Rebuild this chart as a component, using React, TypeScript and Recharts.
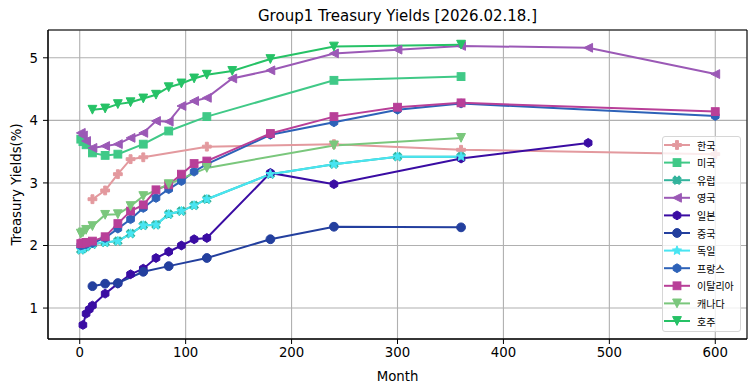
import React from "react"
import { LineChart, Line, XAxis, YAxis, CartesianGrid, Legend, ReferenceArea } from "recharts"

const W = 755
const H = 391
const FONT = "'DejaVu Sans', sans-serif"
const KFONT = "'Noto Sans CJK KR', 'DejaVu Sans', sans-serif"

// 만기(개월) / 금리(%) — 그림에서 읽은 값
const krMonths = [12, 24, 36, 48, 60, 120, 240, 360, 600]
const krYields = [2.74, 2.88, 3.14, 3.38, 3.41, 3.58, 3.62, 3.53, 3.46]

const usMonths = [1, 3, 6, 12, 24, 36, 60, 84, 120, 240, 360]
const usYields = [3.7, 3.66, 3.61, 3.48, 3.44, 3.46, 3.62, 3.83, 4.06, 4.64, 4.7]

const euMonths = [1, 3, 6, 12, 24, 36, 48, 60, 72, 84, 96, 108, 120, 180, 240, 300, 360]
const euYields = [1.93, 1.95, 1.98, 2.02, 2.05, 2.07, 2.19, 2.32, 2.33, 2.5, 2.55, 2.64, 2.74, 3.14, 3.3, 3.42, 3.42]

const ukMonths = [1, 3, 6, 12, 24, 36, 48, 60, 72, 84, 96, 108, 120, 144, 180, 240, 300, 360, 480, 600]
const ukYields = [3.8, 3.76, 3.67, 3.56, 3.59, 3.62, 3.72, 3.8, 3.99, 3.98, 4.23, 4.31, 4.36, 4.67, 4.8, 5.07, 5.13, 5.19, 5.16, 4.74]

const jpMonths = [3, 6, 9, 12, 24, 36, 48, 60, 72, 84, 96, 108, 120, 180, 240, 360, 480]
const jpYields = [0.73, 0.91, 0.98, 1.04, 1.23, 1.39, 1.54, 1.63, 1.8, 1.9, 2.0, 2.1, 2.12, 3.16, 2.98, 3.39, 3.64]

const cnMonths = [12, 24, 36, 60, 84, 120, 180, 240, 360]
const cnYields = [1.35, 1.39, 1.4, 1.58, 1.67, 1.8, 2.1, 2.3, 2.29]

const deMonths = [1, 3, 6, 12, 24, 36, 48, 60, 72, 84, 96, 108, 120, 180, 240, 300, 360]
const deYields = [1.93, 1.95, 1.98, 2.02, 2.05, 2.07, 2.19, 2.32, 2.33, 2.5, 2.55, 2.64, 2.74, 3.14, 3.3, 3.42, 3.42]

const frMonths = [1, 3, 6, 12, 24, 36, 48, 60, 72, 84, 96, 108, 120, 180, 240, 300, 360, 600]
const frYields = [2.0, 2.01, 2.02, 2.04, 2.12, 2.27, 2.42, 2.6, 2.76, 2.9, 3.03, 3.18, 3.3, 3.77, 3.97, 4.17, 4.27, 4.07]

const itMonths = [1, 3, 6, 12, 24, 36, 48, 60, 72, 84, 96, 108, 120, 180, 240, 300, 360, 600]
const itYields = [2.03, 2.04, 2.05, 2.07, 2.14, 2.35, 2.55, 2.65, 2.89, 2.97, 3.14, 3.31, 3.35, 3.79, 4.06, 4.21, 4.28, 4.14]

const caMonths = [1, 3, 6, 12, 24, 36, 48, 60, 84, 120, 240, 360]
const caYields = [2.19, 2.21, 2.25, 2.31, 2.49, 2.5, 2.63, 2.79, 2.98, 3.24, 3.6, 3.72]

const auMonths = [12, 24, 36, 48, 60, 72, 84, 96, 108, 120, 144, 180, 240, 360]
const auYields = [4.17, 4.19, 4.26, 4.29, 4.35, 4.41, 4.53, 4.59, 4.67, 4.73, 4.79, 4.98, 5.18, 5.21]

const xTicks = [0, 100, 200, 300, 400, 500, 600]
const yTicks = [1, 2, 3, 4, 5]
const X_DOMAIN: [number, number] = [-29.95, 629.95]
const Y_DOMAIN: [number, number] = [0.5055, 5.4445]

const pairs = (m: number[], y: number[]) => m.map((month, i) => ({ month, y: y[i] }))

const SERIES = [
  { name: "한국", data: pairs(krMonths, krYields), color: "#e3999e", marker: "P" },
  { name: "미국", data: pairs(usMonths, usYields), color: "#40c987", marker: "s" },
  { name: "유럽", data: pairs(euMonths, euYields), color: "#33b39c", marker: "X" },
  { name: "영국", data: pairs(ukMonths, ukYields), color: "#9b59b6", marker: "<" },
  { name: "일본", data: pairs(jpMonths, jpYields), color: "#3a0ca3", marker: "h" },
  { name: "중국", data: pairs(cnMonths, cnYields), color: "#233f9e", marker: "o" },
  { name: "독일", data: pairs(deMonths, deYields), color: "#48e5f2", marker: "*" },
  { name: "프랑스", data: pairs(frMonths, frYields), color: "#2d62b8", marker: "h" },
  { name: "이탈리아", data: pairs(itMonths, itYields), color: "#b83f98", marker: "s" },
  { name: "캐나다", data: pairs(caMonths, caYields), color: "#7ac77c", marker: "v" },
  { name: "호주", data: pairs(auMonths, auYields), color: "#26c266", marker: "v" },
]

function Glyph({ kind, x, y, color }: { kind: string; x: number; y: number; color: string }) {
  const r = 4.4
  const common = { fill: color, stroke: color, strokeWidth: 1 }
  if (kind === "o") return <circle cx={x} cy={y} r={r} {...common} />
  if (kind === "s") {
    const h = 3.9
    return <rect x={x - h} y={y - h} width={2 * h} height={2 * h} {...common} />
  }
  if (kind === "v") return <polygon points={`${x - r},${y - r} ${x + r},${y - r} ${x},${y + r}`} {...common} />
  if (kind === "<") return <polygon points={`${x - r},${y} ${x + r},${y - r} ${x + r},${y + r}`} {...common} />
  if (kind === "h") {
    const pts = [0, 1, 2, 3, 4, 5]
      .map((k) => {
        const a = (Math.PI / 180) * (90 + 60 * k)
        return `${x + r * Math.cos(a)},${y - r * Math.sin(a)}`
      })
      .join(" ")
    return <polygon points={pts} {...common} />
  }
  if (kind === "*") {
    const pts = Array.from({ length: 10 }, (_, k) => {
      const rr = k % 2 === 0 ? r + 0.4 : (r + 0.4) * 0.45
      const a = (Math.PI / 180) * (90 + 36 * k)
      return `${x + rr * Math.cos(a)},${y - rr * Math.sin(a)}`
    }).join(" ")
    return <polygon points={pts} {...common} />
  }
  // 'P' (채운 +) 와 'X' (채운 x)
  const a = r / 3
  const e = r
  const plus = `${x - a},${y - e} ${x + a},${y - e} ${x + a},${y - a} ${x + e},${y - a} ${x + e},${y + a} ${x + a},${y + a} ${x + a},${y + e} ${x - a},${y + e} ${x - a},${y + a} ${x - e},${y + a} ${x - e},${y - a} ${x - a},${y - a}`
  return <polygon points={plus} {...common} transform={kind === "X" ? `rotate(45 ${x} ${y})` : undefined} />
}

const dotFor = (kind: string, color: string) => (p: any) => {
  if (p.cx == null || p.cy == null) return <g key={p.index} />
  return <Glyph key={p.index} kind={kind} x={p.cx} y={p.cy} color={color} />
}

function LegendBox() {
  return (
    <div
      style={{
        width: 79,
        height: 196,
        boxSizing: "border-box",
        border: "1px solid #d6d6d6",
        borderRadius: 3,
        background: "rgba(255,255,255,0.8)",
      }}
    >
      <svg width={77} height={194} style={{ display: "block" }}>
        {SERIES.map((s, i) => {
          const cy = 8 + i * 17.6
          return (
            <g key={s.name}>
              <line x1={1} x2={27} y1={cy} y2={cy} stroke={s.color} strokeWidth={2} />
              <Glyph kind={s.marker} x={14} y={cy} color={s.color} />
              <text x={34} y={cy} dominantBaseline="central" fontSize={10} fontFamily={KFONT} fill="#000">
                {s.name}
              </text>
            </g>
          )
        })}
      </svg>
    </div>
  )
}

export default function App() {
  const tick = { fill: "#000", fontSize: 13.3, fontFamily: FONT }
  return (
    <div style={{ position: "absolute", left: 0, top: 0, width: W, height: H, background: "#fff" }}>
      <div
        style={{
          position: "absolute",
          left: 48,
          width: 699,
          top: 6,
          textAlign: "center",
          fontFamily: FONT,
          fontSize: 15,
          lineHeight: "20px",
          color: "#000",
        }}
      >
        Group1 Treasury Yields [2026.02.18.]
      </div>
      <LineChart width={W} height={H} margin={{ top: 30, right: 8, bottom: 0, left: 0 }}>
        <CartesianGrid stroke="#b0b0b0" strokeWidth={1.1} />
        <XAxis
          type="number"
          dataKey="month"
          domain={X_DOMAIN}
          ticks={xTicks}
          allowDataOverflow
          height={52}
          tick={tick}
          tickSize={5}
          tickMargin={4}
          tickLine={{ stroke: "#000" }}
          axisLine={{ stroke: "#000" }}
          label={{
            content: (p: any) => (
              <text x={p.viewBox.x + p.viewBox.width / 2} y={376} textAnchor="middle" dominantBaseline="central" fontSize={13.3} fontFamily={FONT} fill="#000">
                Month
              </text>
            ),
          }}
        />
        <YAxis
          type="number"
          domain={Y_DOMAIN}
          ticks={yTicks}
          allowDataOverflow
          width={48}
          tick={tick}
          tickSize={5}
          tickMargin={5}
          tickLine={{ stroke: "#000" }}
          axisLine={{ stroke: "#000" }}
          label={{
            content: (p: any) => {
              const cy = p.viewBox.y + p.viewBox.height / 2
              return (
                <text x={16} y={cy} transform={`rotate(-90 16 ${cy})`} textAnchor="middle" dominantBaseline="central" fontSize={13.3} fontFamily={FONT} fill="#000">
                  Treasury Yields(%)
                </text>
              )
            },
          }}
        />
        <ReferenceArea x1={X_DOMAIN[0]} x2={X_DOMAIN[1]} y1={Y_DOMAIN[0]} y2={Y_DOMAIN[1]} fill="none" stroke="#000" strokeWidth={1} ifOverflow="visible" />
        {SERIES.map((s) => (
          <Line
            key={s.name}
            name={s.name}
            data={s.data}
            dataKey="y"
            type="linear"
            stroke={s.color}
            strokeWidth={2}
            dot={dotFor(s.marker, s.color)}
            activeDot={false}
            isAnimationActive={false}
          />
        ))}
        <Legend
          layout="vertical"
          align="center"
          verticalAlign="middle"
          content={() => <LegendBox />}
          wrapperStyle={{ left: 662, top: 136, width: 79, height: 196 }}
        />
      </LineChart>
    </div>
  )
}
